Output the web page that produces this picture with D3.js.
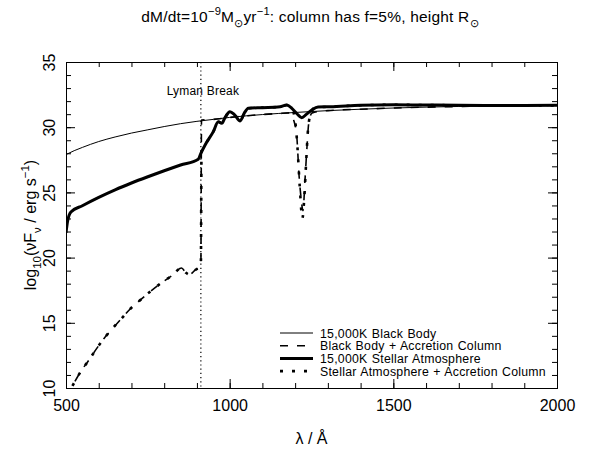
<!DOCTYPE html>
<html lang="en">
<head>
  <meta charset="UTF-8">
  <title>Accretion column spectrum</title>
  <script src="https://cdnjs.cloudflare.com/ajax/libs/d3/7.8.5/d3.min.js"></script>
  <style>
    body { margin: 0; background: #fff; }
    text { font-family: "Liberation Sans", Arial, sans-serif; fill: #000; }
    .tick text { font-size: 16px; }
    .tick line, .domain { stroke: #000; stroke-width: 1; }
  </style>
</head>
<body>
  <svg width="589" height="455"></svg>
  <script>
    // axis ranges and tick values
    var xDomain = [500, 2000]
    var yDomain = [10, 35]
    var xMajor = [500, 1000, 1500, 2000]
    var yMajor = [10, 15, 20, 25, 30, 35]
    var lymanBreak = 912

    // 15,000K black body
    var bbWave = [500, 525, 550, 600, 650, 700, 750, 800, 850, 900, 950, 1000, 1100, 1200, 1300, 1400, 1500, 1600, 1700, 1800, 1900, 2000]
    var bbFlux = [27.9, 28.2, 28.45, 28.9, 29.25, 29.55, 29.8, 30.05, 30.27, 30.45, 30.6, 30.75, 30.97, 31.13, 31.27, 31.38, 31.47, 31.54, 31.59, 31.63, 31.66, 31.68]

    // 15,000K stellar atmosphere
    var saWave = [500, 505, 515, 550, 600, 650, 700, 750, 800, 850, 904, 912, 925, 950, 965, 976, 985, 1001, 1015, 1032, 1045, 1057, 1100, 1154, 1174, 1190, 1205, 1220, 1235, 1251, 1270, 1307, 1400, 1500, 1600, 1700, 1800, 1900, 2000]
    var saFlux = [21.9, 22.8, 23.5, 23.98, 24.62, 25.2, 25.72, 26.2, 26.66, 27.1, 27.55, 28.0, 28.64, 29.66, 30.42, 30.3, 30.7, 31.19, 30.95, 30.48, 31.1, 31.45, 31.5, 31.57, 31.7, 31.45, 31.05, 30.73, 31.0, 31.32, 31.55, 31.57, 31.68, 31.72, 31.7, 31.68, 31.67, 31.66, 31.68]

    // black body + accretion column
    var bbColWave = [500, 512, 548, 568, 594, 619, 640, 670, 696, 721, 757, 787, 823, 853, 866, 877, 895, 912, 914, 950, 1000, 1100, 1150, 1185, 1195, 1205, 1212, 1218, 1224, 1230, 1236, 1242, 1252, 1300, 1400, 1500, 1600, 1700, 1800, 1900, 2000]
    var bbColFlux = [9.4, 9.85, 11.38, 12.07, 13.04, 13.89, 14.5, 15.34, 16.06, 16.62, 17.39, 17.98, 18.61, 19.2, 18.85, 18.7, 19.05, 19.4, 30.55, 30.6, 30.75, 30.97, 31.05, 31.1, 30.6, 29.3, 26.3, 24.6, 23.6, 25.9, 28.4, 30.4, 31.1, 31.27, 31.38, 31.47, 31.54, 31.59, 31.63, 31.66, 31.68]

    // stellar atmosphere + accretion column
    var saColWave = [500, 512, 548, 568, 594, 619, 640, 670, 696, 721, 757, 787, 823, 853, 866, 877, 895, 912, 914, 925, 950, 965, 976, 985, 1001, 1015, 1032, 1045, 1057, 1100, 1154, 1174, 1190, 1200, 1207, 1214, 1222, 1228, 1234, 1240, 1250, 1260, 1307, 1400, 1500, 1600, 1700, 1800, 1900, 2000]
    var saColFlux = [9.4, 9.85, 11.38, 12.07, 13.04, 13.89, 14.5, 15.34, 16.06, 16.62, 17.39, 17.98, 18.61, 19.2, 18.85, 18.7, 19.05, 19.4, 28.1, 28.64, 29.66, 30.42, 30.3, 30.7, 31.19, 30.95, 30.48, 31.1, 31.45, 31.5, 31.57, 31.7, 31.4, 30.5, 28.5, 25.5, 23.0, 24.6, 27.5, 30.0, 31.2, 31.5, 31.57, 31.68, 31.72, 31.7, 31.68, 31.67, 31.66, 31.68]

    var legendLabels = ["15,000K Black Body", "Black Body + Accretion Column", "15,000K Stellar Atmosphere", "Stellar Atmosphere + Accretion Column"]

    // line styles, same order as the legend
    var styles = [
      { width: 1, dash: null },
      { width: 1.6, dash: "8,9" },
      { width: 3, dash: null },
      { width: 2.6, dash: "3,9" }
    ]
    var series = [
      { wave: bbWave, flux: bbFlux },
      { wave: bbColWave, flux: bbColFlux },
      { wave: saWave, flux: saFlux },
      { wave: saColWave, flux: saColFlux }
    ]
    // draw order: solid curves under the dashed ones
    var drawOrder = [0, 2, 1, 3]

    var margin = { top: 62, right: 32, bottom: 67, left: 66 }
    var svg = d3.select("svg")
    var W = +svg.attr("width") - margin.left - margin.right
    var H = +svg.attr("height") - margin.top - margin.bottom

    var x = d3.scaleLinear().domain(xDomain).range([0, W])
    var y = d3.scaleLinear().domain(yDomain).range([H, 0])

    var g = svg.append("g").attr("transform", "translate(" + margin.left + "," + margin.top + ")")

    g.append("clipPath").attr("id", "clip")
      .append("rect").attr("width", W).attr("height", H)

    // minor + major ticks on all four sides, pointing inward
    var xMinor = d3.range(xDomain[0], xDomain[1] + 1, 100)
    var yMinor = d3.range(yDomain[0], yDomain[1] + 1, 1)

    g.append("g").attr("transform", "translate(0," + H + ")")
      .call(d3.axisBottom(x).tickValues(xMinor).tickSize(-5).tickFormat(""))
    g.append("g").attr("transform", "translate(0," + H + ")")
      .call(d3.axisBottom(x).tickValues(xMajor).tickSize(-9).tickPadding(12).tickFormat(d3.format("d")))
    g.append("g")
      .call(d3.axisTop(x).tickValues(xMinor).tickSize(-5).tickFormat(""))
    g.append("g")
      .call(d3.axisTop(x).tickValues(xMajor).tickSize(-9).tickFormat(""))

    g.append("g")
      .call(d3.axisLeft(y).tickValues(yMinor).tickSize(-5).tickFormat(""))
    var yAx = g.append("g")
      .call(d3.axisLeft(y).tickValues(yMajor).tickSize(-9).tickFormat(d3.format("d")))
    yAx.selectAll(".tick text")
      .attr("x", null).attr("dy", null)
      .attr("text-anchor", "middle")
      .attr("transform", "translate(-11,0) rotate(-90)")
    g.append("g").attr("transform", "translate(" + W + ",0)")
      .call(d3.axisRight(y).tickValues(yMinor).tickSize(-5).tickFormat(""))
    g.append("g").attr("transform", "translate(" + W + ",0)")
      .call(d3.axisRight(y).tickValues(yMajor).tickSize(-9).tickFormat(""))

    g.selectAll(".domain").attr("stroke-width", 1.2)

    // Lyman break
    g.append("line")
      .attr("x1", x(lymanBreak)).attr("x2", x(lymanBreak))
      .attr("y1", 0).attr("y2", H)
      .attr("stroke", "#000").attr("stroke-width", 1.2)
      .attr("stroke-dasharray", "1.2,3")
    g.append("text")
      .attr("x", x(lymanBreak) + 2).attr("y", 33)
      .attr("text-anchor", "middle")
      .style("font-size", "12px")
      .style("letter-spacing", "0.2px")
      .text("Lyman Break")

    var line = d3.line()
      .x(function (d) { return x(d[0]) })
      .y(function (d) { return y(d[1]) })
      .curve(d3.curveMonotoneX)

    var plot = g.append("g").attr("clip-path", "url(#clip)")
    drawOrder.forEach(function (i) {
      var s = series[i]
      var pts = s.wave.map(function (w, k) { return [w, s.flux[k]] })
      plot.append("path")
        .attr("d", line(pts))
        .attr("fill", "none")
        .attr("stroke", "#000")
        .attr("stroke-width", styles[i].width)
        .attr("stroke-dasharray", styles[i].dash)
        .attr("stroke-linejoin", "round")
    })

    // legend
    var lg = g.append("g").attr("transform", "translate(" + (280 - margin.left) + "," + (333 - margin.top) + ")")
    legendLabels.forEach(function (label, i) {
      var row = lg.append("g").attr("transform", "translate(0," + (i * 12.7) + ")")
      row.append("line")
        .attr("x1", 0).attr("x2", 33)
        .attr("stroke", "#000")
        .attr("stroke-width", styles[i].width)
        .attr("stroke-dasharray", styles[i].dash)
      row.append("text")
        .attr("x", 40).attr("y", 4.5)
        .style("font-size", "12.3px")
        .style("letter-spacing", "0.25px")
        .style("word-spacing", "0.6px")
        .text(label)
    })

    // text with sub/superscripts; the baseline is restored on the next part
    function richText(sel, parts, size) {
      var back = 0
      parts.forEach(function (p) {
        var shift = p[1] === "sup" ? -0.45 * size : p[1] === "sub" ? 0.3 * size : 0
        var t = sel.append("tspan").text(p[0])
        if (shift || back) t.attr("dy", (back + shift) + "px")
        if (shift) t.style("font-size", (size * 0.72) + "px")
        back = -shift
      })
    }

    var title = svg.append("text")
      .attr("x", 310).attr("y", 22)
      .attr("text-anchor", "middle")
      .style("font-size", "15.5px")
      .style("letter-spacing", "0.2px")
    richText(title, [
      ["dM/dt=10"], ["\u22129", "sup"], ["M"], ["\u2299", "sub"], ["yr"], ["\u22121", "sup"],
      [": column has f=5%, height R"], ["\u2299", "sub"]
    ], 15.5)

    svg.append("text")
      .attr("x", margin.left + W / 2).attr("y", 444)
      .attr("text-anchor", "middle")
      .style("font-size", "16px")
      .text("\u03bb / \u00c5")

    var yl = svg.append("text")
      .attr("transform", "translate(36,225) rotate(-90)")
      .attr("text-anchor", "middle")
      .style("font-size", "16px")
    richText(yl, [
      ["log"], ["10", "sub"], ["(\u03bdF"], ["\u03bd", "sub"], [" / erg s"], ["\u22121", "sup"], [")"]
    ], 16)
  </script>
</body>
</html>
